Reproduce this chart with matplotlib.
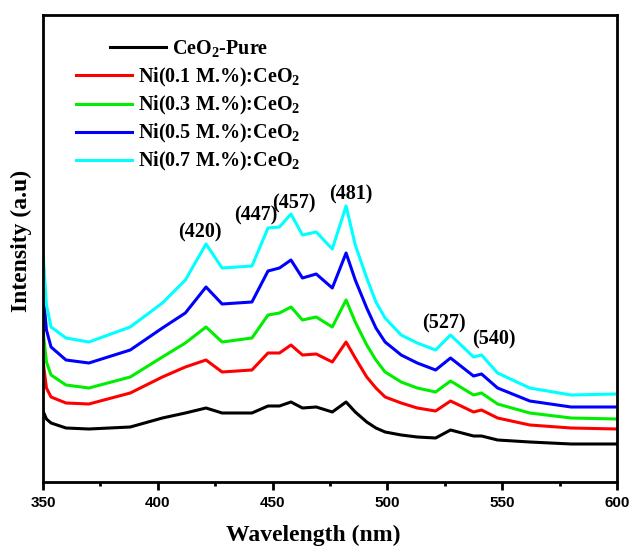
import matplotlib
matplotlib.use('Agg')
import matplotlib.pyplot as plt
import numpy as np

plt.rcParams['mathtext.fontset'] = 'custom'
plt.rcParams['mathtext.rm'] = 'Liberation Serif:bold'
plt.rcParams['mathtext.it'] = 'Liberation Serif:bold'
plt.rcParams['mathtext.bf'] = 'Liberation Serif:bold'
plt.rcParams['mathtext.default'] = 'rm'

# wavelength grid (nm)
wl = [350, 351.5, 353.5, 360, 370, 388, 402, 412, 421, 428, 441, 448, 453, 458,
      463, 469, 476, 482, 486, 491, 495, 499, 506, 513, 521, 527.5, 537.5, 541,
      548, 562, 580, 600]

# intensities (arb. units)
pure = [71, 63, 59, 54, 53, 55, 64, 69, 74, 69, 69, 76, 76, 80, 74, 75, 70, 80,
        70, 60, 54, 50, 47, 45, 44, 52, 46, 46, 42, 40, 38, 38]
ni01 = [121, 94, 85, 79, 78, 89, 105, 115, 122, 110, 112, 129, 129, 137, 127,
        128, 120, 140, 124, 105, 94, 85, 79, 74, 71, 81, 70, 72, 64, 57, 54, 53]
ni03 = [152, 120, 107, 97, 94, 105, 125, 139, 155, 140, 144, 167, 169, 175, 162,
        165, 155, 182, 160, 137, 122, 110, 100, 94, 90, 101, 87, 89, 78, 69, 64, 63]
ni05 = [190, 152, 135, 122, 119, 132, 154, 169, 195, 178, 180, 211, 214, 222,
        204, 208, 194, 229, 202, 174, 154, 140, 127, 119, 112, 124, 106, 108, 94,
        81, 75, 75]
ni07 = [230, 177, 155, 144, 140, 155, 179, 202, 238, 214, 216, 254, 255, 268,
        247, 250, 233, 276, 237, 204, 180, 164, 147, 139, 132, 147, 125, 127, 109,
        94, 87, 88]

labels = ['CeO$_2$-Pure', 'Ni(0.1 M.%):CeO$_2$', 'Ni(0.3 M.%):CeO$_2$',
          'Ni(0.5 M.%):CeO$_2$', 'Ni(0.7 M.%):CeO$_2$']
colors = ['black', '#ff0000', '#00ee00', '#0000ff', '#00ffff']

peaks = [420, 447, 457, 481, 527, 540]
# label offsets in pixels relative to the top curve
offs = [(-4, 16), (-10, 18), (5, 13), (7, 19), (-5, 13), (15, 16)]

fig = plt.figure(figsize=(6.32, 5.49), dpi=100)
ax = fig.add_axes([43/632, 67/549, 574/632, 467/549])

series = [pure, ni01, ni03, ni05, ni07]
lines = []
for s, c, lab in zip(series, colors, labels):
    l, = ax.plot(wl, s, color=c, lw=2.2, label=lab)
    lines.append(l)

for p, (dx, dy) in zip(peaks, offs):
    yv = np.interp(p, wl, ni07)
    ax.annotate('(%d)' % p, xy=(p, yv), xytext=(dx, dy), textcoords='offset pixels',
                ha='center', va='center', fontsize=14.5, fontweight='bold',
                family='Liberation Serif')

ax.set_xlim(350, 600)
ax.set_ylim(0, 467)
ax.set_xticks([350, 400, 450, 500, 550, 600])
ax.set_xticks([375, 425, 475, 525, 575], minor=True)
ax.set_yticks([])
ax.tick_params(axis='x', which='major', direction='out', length=6, width=2, pad=4)
ax.tick_params(axis='x', which='minor', direction='out', length=3, width=2)
for t in ax.get_xticklabels():
    t.set_family('Liberation Sans')
    t.set_fontweight('bold')
    t.set_fontsize(11)
for sp in ax.spines.values():
    sp.set_linewidth(2)

ax.set_xlabel('Wavelength (nm)', family='Liberation Serif', fontweight='bold',
              fontsize=17, va='center')
ax.xaxis.set_label_coords(0.47, -0.114)
ax.set_ylabel('Intensity (a.u)', family='Liberation Serif', fontweight='bold',
              fontsize=17, va='center')
ax.yaxis.set_label_coords(-0.038, 0.516)

leg_font = {'family': 'Liberation Serif', 'weight': 'bold', 'size': 14.5}
leg1 = ax.legend(handles=lines[:1], loc='upper left', frameon=False,
                 bbox_to_anchor=(110/632, 1 - 38/549), bbox_transform=fig.transFigure,
                 prop=leg_font, handlelength=2.8, handletextpad=0.3, borderpad=0,
                 borderaxespad=0)
ax.add_artist(leg1)
ax.legend(handles=lines[1:], loc='upper left', frameon=False,
          bbox_to_anchor=(76/632, 1 - 66/549), bbox_transform=fig.transFigure,
          prop=leg_font, handlelength=2.8, handletextpad=0.3, borderpad=0,
          borderaxespad=0, labelspacing=0.25)

fig.savefig('out.png', dpi=100)
